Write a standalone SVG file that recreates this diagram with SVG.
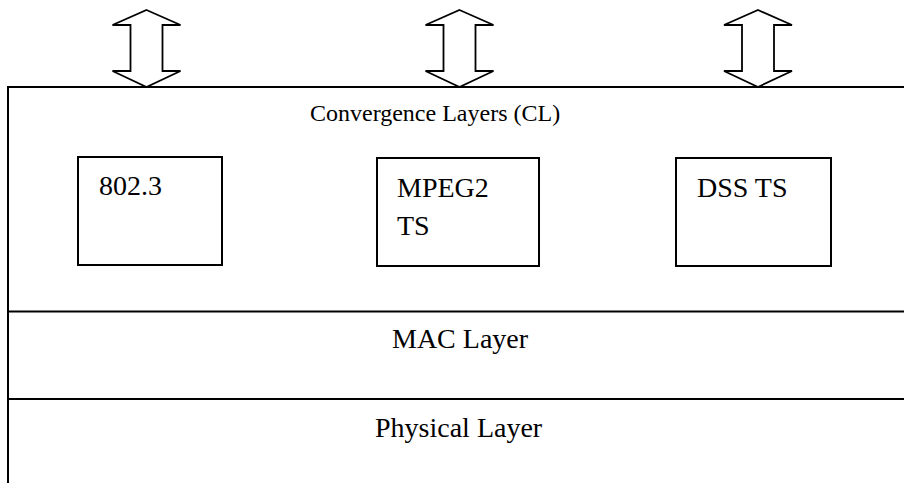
<svg xmlns="http://www.w3.org/2000/svg" xmlns:xlink="http://www.w3.org/1999/xlink" width="904" height="483" viewBox="0 0 904 483">
  <style>
    .ln { fill: none; stroke: #000; stroke-width: 2; }
    .box { fill: #fff; stroke: #000; stroke-width: 2; }
    .arr { fill: #fff; stroke: #000; stroke-width: 1.8; stroke-linejoin: miter; }
    text { font-family: "Liberation Serif", "Times New Roman", serif; fill: #000; }
    .big { font-size: 28px; }
    .mid { font-size: 24px; }
  </style>
  <defs>
    <!-- double-headed hollow arrow, centred on x=0 -->
    <path id="dblArrow" class="arr" d="M0,10 L34,25 L16,25 L16,71 L34,71 L0,87 L-34,71 L-16,71 L-16,25 L-34,25 Z"/>
  </defs>

  <!-- layer stack frame -->
  <g id="stack">
    <path class="ln" d="M906,87 L8,87 L8,485"/>
    <line class="ln" x1="8" y1="311.5" x2="906" y2="311.5"/>
    <line class="ln" x1="8" y1="399" x2="906" y2="399"/>
  </g>

  <g id="connectors">
    <use xlink:href="#dblArrow" x="146.5" y="0"/>
    <use xlink:href="#dblArrow" x="459.5" y="0"/>
    <use xlink:href="#dblArrow" x="758" y="0"/>
  </g>

  <g id="cl-layer">
    <text class="mid" x="310" y="121">Convergence Layers (CL)</text>
  </g>

  <g id="node-8023">
    <rect class="box" x="78" y="157" width="144" height="108"/>
    <text class="big" x="99" y="195">802.3</text>
  </g>

  <g id="node-mpeg2">
    <rect class="box" x="377" y="158" width="162" height="108"/>
    <text class="big" x="397" y="197">MPEG2</text>
    <text class="big" x="397" y="235">TS</text>
  </g>

  <g id="node-dss">
    <rect class="box" x="676" y="158" width="155" height="108"/>
    <text class="big" x="697" y="197">DSS TS</text>
  </g>

  <g id="mac-layer">
    <text class="big" x="392" y="348">MAC Layer</text>
  </g>

  <g id="phy-layer">
    <text class="big" x="375" y="437">Physical Layer</text>
  </g>
</svg>
